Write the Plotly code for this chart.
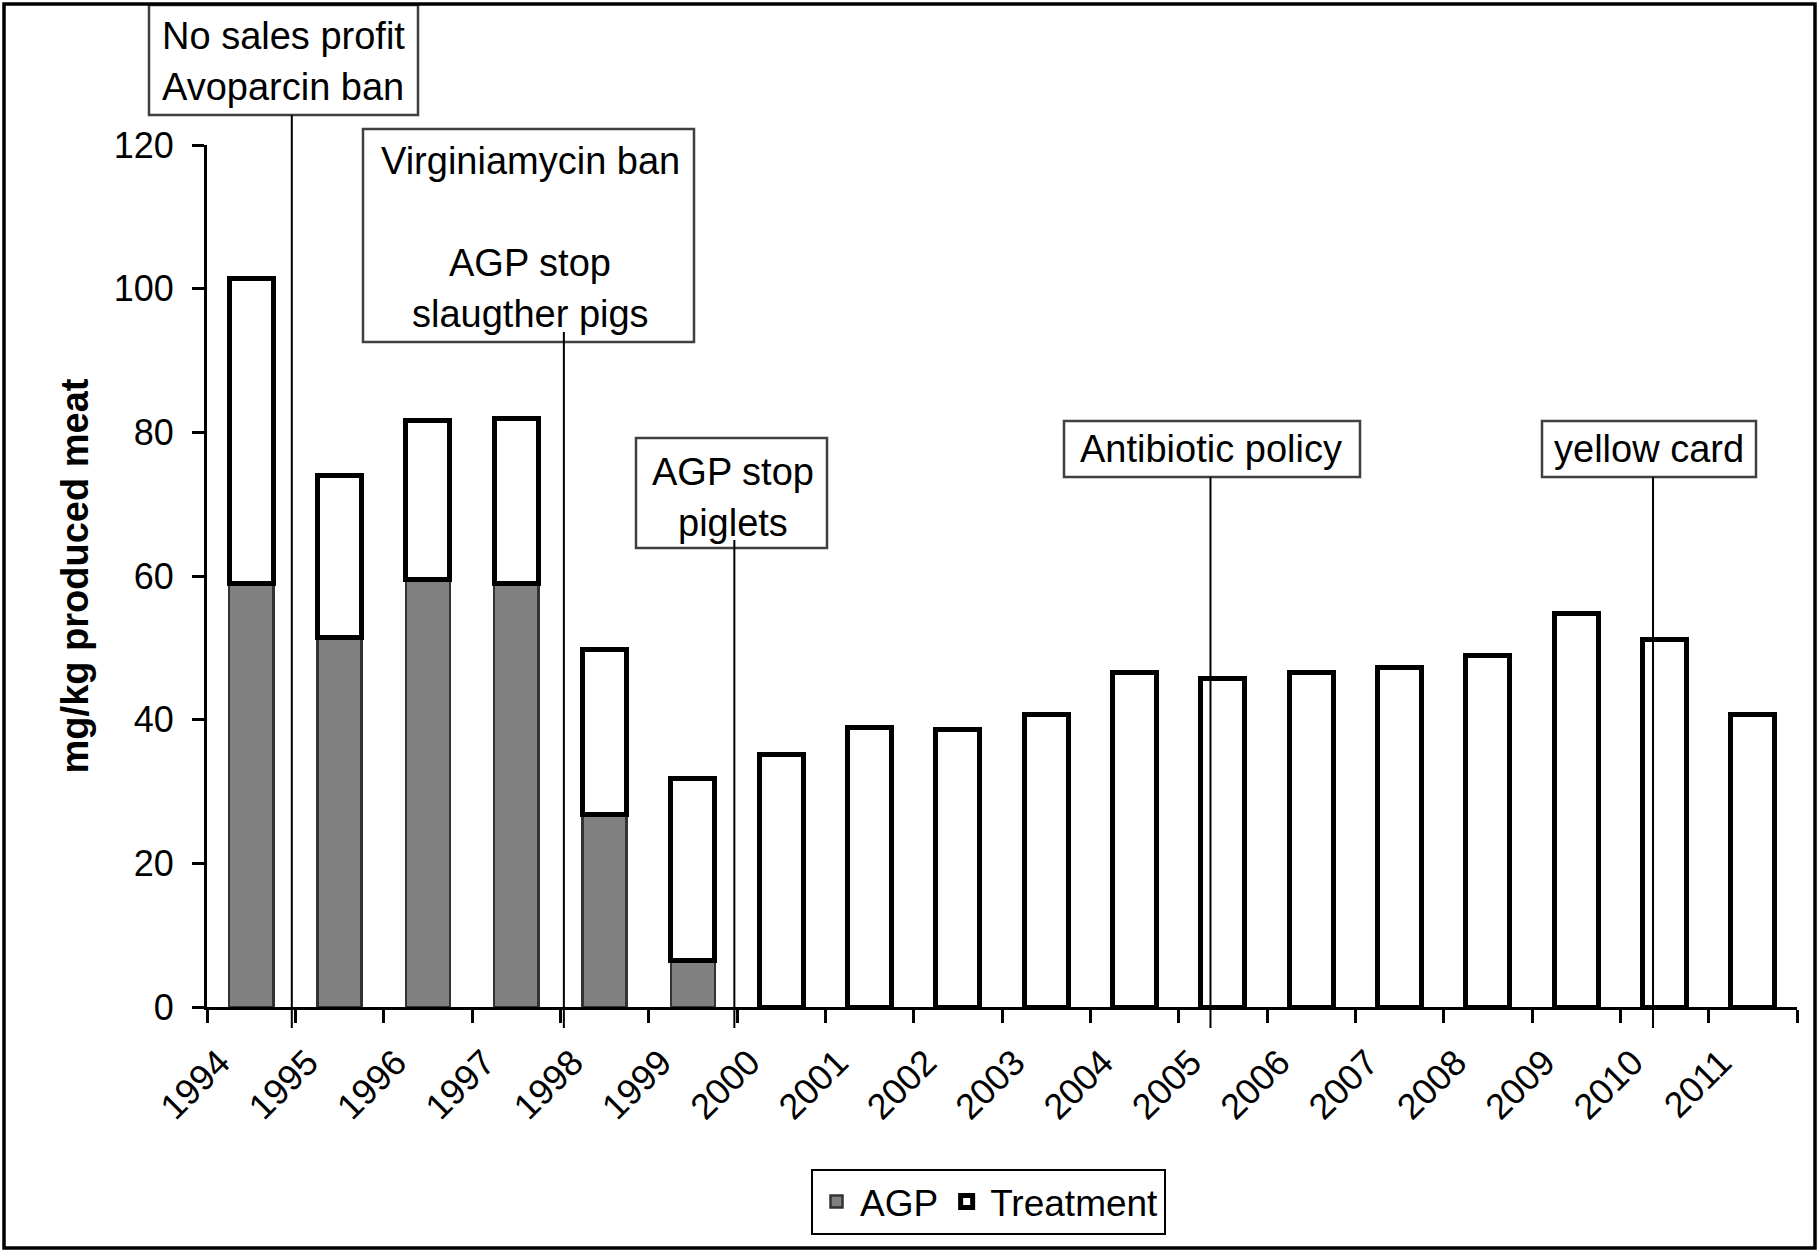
import plotly.graph_objects as go

# ---------------- data ----------------
years = ["1994", "1995", "1996", "1997", "1998", "1999", "2000", "2001", "2002",
         "2003", "2004", "2005", "2006", "2007", "2008", "2009", "2010", "2011"]
agp = [59.0, 51.5, 59.5, 59.0, 26.8, 6.5, None, None, None,
       None, None, None, None, None, None, None, None, None]
treatment = [42.4, 22.5, 22.1, 22.9, 23.0, 25.3, 35.2, 38.9, 38.6,
             40.7, 46.5, 45.7, 46.5, 47.2, 48.9, 54.8, 51.2, 40.7]
y_ticks = [0, 20, 40, 60, 80, 100, 120]

# event annotations: (lines of text, x position of pointer line in category units)
event_text = [
    ["No sales profit", "Avoparcin ban"],
    ["Virginiamycin ban", "", "AGP stop", "slaugther pigs"],
    ["AGP stop", "piglets"],
    ["Antibiotic policy"],
    ["yellow card"],
]
event_x = [0.96, 4.04, 5.97, 11.36, 16.37]

# ---------------- layout geometry (pixels) ----------------
W, H = 1819, 1252
L, R, T, B = 207, 1797, 145, 1007
FONT = "Arial, Liberation Sans, Helvetica, sans-serif"
TXT = 38


def px_x(p):
    return (p - L) / (R - L)


def px_y(p):
    return (B - p) / (B - T)


# box rectangles (x0, y0, x1, y1) in px, text line centres, pointer top px
boxes = [(149, 5, 418, 115), (363, 129, 694, 342), (636, 438, 827, 548),
         (1064, 421, 1360, 477), (1542, 421, 1756, 477)]
text_cx = [283, 530, 733, 1211, 1649]
text_cy0 = [36, 161, 472, 449, 449]
line_step = 51
line_top = [115, 332, 540, 477, 477]
line_bottom = 1028

xpos = [i + 0.5 for i in range(len(years))]

fig = go.Figure()
fig.add_trace(go.Bar(
    x=xpos, y=agp, name="AGP", width=0.5,
    marker=dict(color="#808080", line=dict(color="#333333", width=2.5)),
))
fig.add_trace(go.Bar(
    x=xpos, y=treatment, name="Treatment", width=0.5,
    marker=dict(color="white", line=dict(color="black", width=5)),
))

shapes = []
annotations = []
for k, lines in enumerate(event_text):
    x0, y0, x1, y1 = boxes[k]
    shapes.append(dict(type="rect", xref="paper", yref="paper",
                       x0=px_x(x0), x1=px_x(x1), y0=px_y(y1), y1=px_y(y0),
                       line=dict(color="#404040", width=2.5),
                       fillcolor="white", layer="above"))
    shapes.append(dict(type="line", xref="x", yref="paper",
                       x0=event_x[k], x1=event_x[k],
                       y0=px_y(line_top[k]), y1=px_y(line_bottom),
                       line=dict(color="black", width=2), layer="above"))
    for j, txt in enumerate(lines):
        if not txt:
            continue
        annotations.append(dict(text=txt, xref="paper", yref="paper",
                                x=px_x(text_cx[k]), y=px_y(text_cy0[k] + j * line_step),
                                xanchor="center", yanchor="middle", showarrow=False,
                                font=dict(family=FONT, size=TXT, color="black")))

# outer frame
shapes.append(dict(type="rect", xref="paper", yref="paper",
                   x0=px_x(4), x1=px_x(1815), y0=px_y(1248), y1=px_y(4),
                   line=dict(color="black", width=3.5), layer="above"))

fig.update_layout(
    width=W, height=H,
    margin=dict(l=L, r=W - R, t=T, b=H - B, autoexpand=False),
    paper_bgcolor="white", plot_bgcolor="white",
    barmode="stack",
    font=dict(family=FONT, size=TXT, color="black"),
    shapes=shapes, annotations=annotations,
    showlegend=True,
    legend=dict(orientation="h", x=px_x(811), y=px_y(1169),
                xanchor="left", yanchor="top",
                bordercolor="black", borderwidth=2, bgcolor="white",
                font=dict(family=FONT, size=37, color="black"),
                traceorder="normal", itemwidth=37),
)

fig.update_xaxes(
    range=[0, len(years)], showgrid=False, zeroline=False,
    showline=True, linecolor="black", linewidth=3,
    tickmode="array", tickvals=[i + 0.14 for i in range(len(years))], ticktext=years,
    tickangle=-45, ticks="outside", ticklen=13, tickcolor="rgba(0,0,0,0)",
    ticklabelstandoff=4,
    tickfont=dict(family=FONT, size=36, color="black"),
    minor=dict(tickvals=list(range(len(years) + 1)), ticks="outside",
               ticklen=13, tickwidth=3, tickcolor="black"),
)
fig.update_yaxes(
    range=[0, 120], showgrid=False, zeroline=False,
    showline=True, linecolor="black", linewidth=3,
    tickmode="array", tickvals=y_ticks,
    ticks="outside", ticklen=12, tickwidth=3, tickcolor="black",
    ticklabelstandoff=11,
    tickfont=dict(family=FONT, size=36, color="black"),
    title=dict(text="<b>mg/kg produced meat</b>", standoff=14,
               font=dict(family=FONT, size=38, color="black")),
)

fig.write_html(
    "out.html",
    config={"displayModeBar": False},
    post_script="document.body.style.margin='0';document.body.style.overflow='hidden';",
)
